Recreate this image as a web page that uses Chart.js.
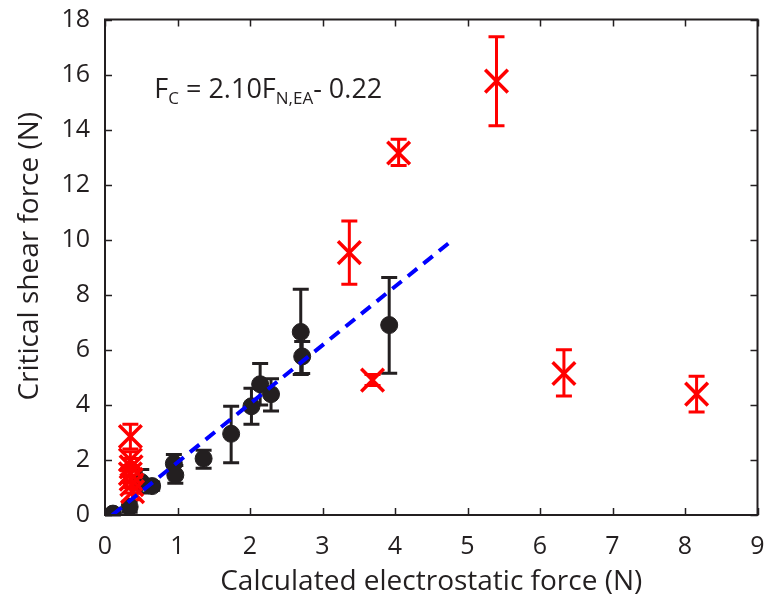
<!DOCTYPE html>
<html>
<head>
<meta charset="utf-8">
<script src="https://cdn.jsdelivr.net/npm/chart.js@4.4.0/dist/chart.umd.min.js"></script>
<style>
  html, body { margin: 0; padding: 0; background: #fff; }
  #wrap { width: 777px; height: 607px; }
</style>
</head>
<body>
<div id="wrap"><canvas id="myChart"></canvas></div>
<script>
// black circles: measured points
const blackX  = [0.11, 0.34, 0.50, 0.65, 0.95, 0.97, 1.36, 1.74, 2.02, 2.14, 2.29, 2.70, 2.72, 3.92];
const blackY  = [0.05, 0.30, 1.20, 1.05, 1.87, 1.45, 2.05, 2.95, 3.95, 4.75, 4.39, 6.65, 5.76, 6.90];
const blackLo = [0.00, 0.10, 0.80, 0.90, 1.60, 1.15, 1.70, 1.90, 3.30, 4.00, 3.78, 5.10, 5.14, 5.15];
const blackHi = [0.10, 0.50, 1.65, 1.20, 2.20, 1.80, 2.35, 3.95, 4.60, 5.50, 4.95, 8.20, 6.30, 8.63];

// red crosses
const redX  = [0.35, 0.35, 0.36, 0.35, 0.36, 0.37, 0.38, 3.37, 3.69, 4.05, 5.40, 6.33, 8.16];
const redY  = [2.85, 2.00, 1.75, 1.50, 1.30, 1.10, 0.85, 9.53, 4.90, 13.15, 15.76, 5.14, 4.39];
const redLo = [2.40, 1.70, 1.45, 1.20, 1.00, 0.80, 0.55, 8.38, 4.70, 12.70, 14.14, 4.32, 3.74];
const redHi = [3.30, 2.30, 2.05, 1.80, 1.60, 1.40, 1.15, 10.68, 5.10, 13.65, 17.37, 6.00, 5.04];

// fit line end points
const fitX = [0.10, 4.80];
const fitY = [0.00, 10.00];

const xTicks = [0, 1, 2, 3, 4, 5, 6, 7, 8, 9];
const yTicks = [0, 2, 4, 6, 8, 10, 12, 14, 16, 18];

const FONT = '"Open Sans", "DejaVu Sans", sans-serif';
const INK = '#231f20';

function pts(xs, ys) {
    return xs.map((x, i) => ({ x: x, y: ys[i] }));
}

// error bars, drawn under the markers
const errorBars = {
    id: 'errorBars',
    beforeDatasetsDraw(chart) {
        const ctx = chart.ctx;
        const xs = chart.scales.x, ys = chart.scales.y;
        const draw = (xv, lo, hi, color) => {
            ctx.save();
            ctx.strokeStyle = color;
            ctx.lineWidth = 3;
            ctx.lineCap = 'butt';
            xv.forEach((x, i) => {
                const px = xs.getPixelForValue(x);
                const p1 = ys.getPixelForValue(lo[i]);
                const p2 = ys.getPixelForValue(hi[i]);
                ctx.beginPath();
                ctx.moveTo(px, p1); ctx.lineTo(px, p2);
                ctx.moveTo(px - 8, p1); ctx.lineTo(px + 8, p1);
                ctx.moveTo(px - 8, p2); ctx.lineTo(px + 8, p2);
                ctx.stroke();
            });
            ctx.restore();
        };
        draw(blackX, blackLo, blackHi, INK);
        draw(redX, redLo, redHi, '#ff0000');
    }
};

// matlab style box with inward ticks, the y title and the fit equation
const boxAndText = {
    id: 'boxAndText',
    afterDraw(chart) {
        const ctx = chart.ctx;
        const a = chart.chartArea;
        const xs = chart.scales.x, ys = chart.scales.y;
        ctx.save();
        ctx.strokeStyle = INK;
        ctx.lineWidth = 2;
        ctx.strokeRect(a.left, a.top, a.right - a.left, a.bottom - a.top);
        ctx.beginPath();
        xTicks.forEach(v => {
            const px = Math.round(xs.getPixelForValue(v)) + 0.5;
            ctx.moveTo(px, a.bottom); ctx.lineTo(px, a.bottom - 7);
            ctx.moveTo(px, a.top); ctx.lineTo(px, a.top + 7);
        });
        yTicks.forEach(v => {
            const py = Math.round(ys.getPixelForValue(v)) + 0.5;
            ctx.moveTo(a.left, py); ctx.lineTo(a.left + 7, py);
            ctx.moveTo(a.right, py); ctx.lineTo(a.right - 7, py);
        });
        ctx.lineWidth = 1.5;
        ctx.stroke();

        // y title, centred a little above the middle like the original
        ctx.fillStyle = INK;
        ctx.font = '28px ' + FONT;
        ctx.textAlign = 'center';
        ctx.textBaseline = 'middle';
        ctx.translate(30, ys.getPixelForValue(9.4));
        ctx.rotate(-Math.PI / 2);
        ctx.fillText('Critical shear force (N)', 0, 0);
        ctx.setTransform(1, 0, 0, 1, 0, 0);

        // equation
        let x = xs.getPixelForValue(0.68);
        const y = ys.getPixelForValue(15.15);
        ctx.textAlign = 'left';
        ctx.textBaseline = 'alphabetic';
        const big = '27px ' + FONT, small = '17px ' + FONT;
        const parts = [
            ['F', big, 0], ['C', small, 6], [' = 2.10F', big, 0],
            ['N,EA', small, 6], ['- 0.22', big, 0]
        ];
        parts.forEach(p => {
            ctx.font = p[1];
            ctx.fillText(p[0], x, y + p[2]);
            x += ctx.measureText(p[0]).width;
        });
        ctx.restore();
    }
};

const config = {
    type: 'scatter',
    data: {
        datasets: [
            {
                label: 'fit',
                type: 'line',
                data: pts(fitX, fitY),
                borderColor: '#0000ff',
                borderWidth: 4,
                borderDash: [12, 8],
                pointRadius: 0,
                fill: false,
                order: 0
            },
            {
                label: 'red',
                data: pts(redX, redY),
                pointStyle: 'crossRot',
                pointRadius: 16,
                pointHoverRadius: 16,
                borderColor: '#ff0000',
                borderWidth: 3.5,
                order: 1
            },
            {
                label: 'black',
                data: pts(blackX, blackY),
                pointStyle: 'circle',
                pointRadius: 8.5,
                pointHoverRadius: 8.5,
                backgroundColor: INK,
                borderColor: INK,
                borderWidth: 1,
                order: 2
            }
        ]
    },
    options: {
        responsive: true,
        maintainAspectRatio: false,
        animation: false,
        layout: { padding: { left: 0, right: 11, top: 14, bottom: 0 } },
        plugins: {
            legend: { display: false },
            tooltip: { enabled: false }
        },
        scales: {
            x: {
                type: 'linear',
                min: 0, max: 9,
                afterBuildTicks: (s) => { s.ticks = xTicks.map(v => ({ value: v })); },
                afterFit: (s) => {
                    s.height = 92;
                    s.paddingLeft = 0; s.paddingRight = 0;
                },
                grid: { display: false, drawTicks: false },
                border: { display: false },
                ticks: { color: INK, font: { family: FONT, size: 25 }, padding: 17 },
                title: {
                    display: true,
                    text: 'Calculated electrostatic force (N)',
                    color: INK,
                    font: { family: FONT, size: 28 },
                    padding: { top: 0, bottom: 8 }
                }
            },
            y: {
                type: 'linear',
                min: 0, max: 18,
                afterBuildTicks: (s) => { s.ticks = yTicks.map(v => ({ value: v })); },
                afterFit: (s) => {
                    s.width = 105;
                    s.paddingTop = 0; s.paddingBottom = 0;
                },
                grid: { display: false, drawTicks: false },
                border: { display: false },
                ticks: { color: INK, font: { family: FONT, size: 25 }, padding: 15 }
            }
        }
    },
    plugins: [errorBars, boxAndText]
};

new Chart(document.getElementById('myChart'), config);
</script>
</body>
</html>
